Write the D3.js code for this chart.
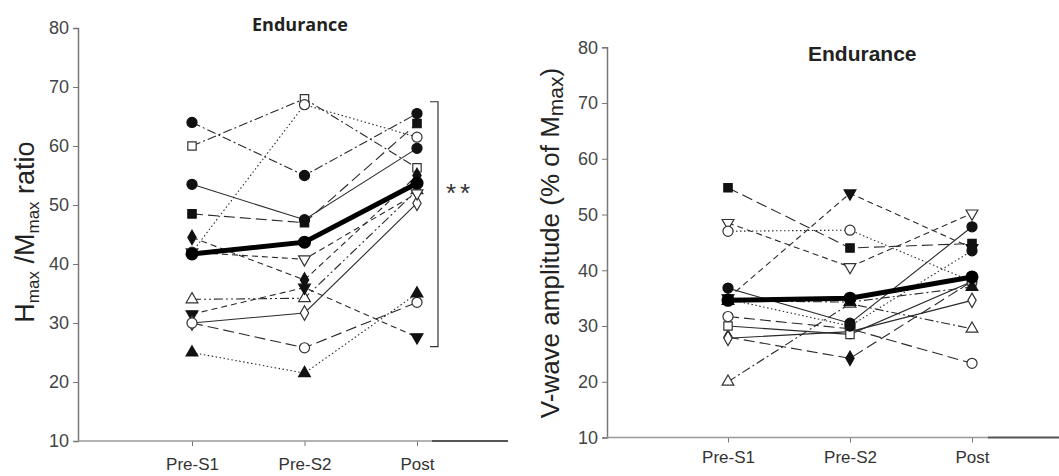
<!DOCTYPE html>
<html>
<head>
<meta charset="utf-8">
<script src="https://cdn.jsdelivr.net/npm/d3@7"></script>
<style>
  body { margin: 0; background: #fff; }
  text { font-family: "Liberation Sans", Arial, sans-serif; }
</style>
</head>
<body>
<div id="chart"></div>
<script>
// categories and tick values
var cats = ["Pre-S1", "Pre-S2", "Post"];
var yTicks = [10, 20, 30, 40, 50, 60, 70, 80];

// left panel: Hmax/Mmax ratio, one row per subject
var leftValues = [
  [64, 55, 65.5], [60, 68, 56.3], [42, 67, 61.5], [53.5, 47.5, 59.6],
  [48.5, 47, 63.8], [44.5, 37.3, 55], [34, 34.2, 52.5], [31.5, 36, 27.6],
  [30, 31.7, 50.3], [30, 25.8, 33.5], [25, 21.5, 35], [42, 40.8, 52]
];
var leftMarkers = ["circle-f", "square-o", "circle-o", "circle-f", "square-f", "diamond-f",
  "triangle-o", "invtri-f", "diamond-o", "circle-o", "triangle-f", "invtri-o"];
var leftDash = ["dashdot", "dashdot", "dot", "solid", "longdash", "dash",
  "dashdotdot", "dash", "solid", "longdash", "dot", "dash"];
var leftMean = [41.7, 43.7, 53.7];
var leftBracket = [26, 67.5];

// right panel: V-wave amplitude
var rightValues = [
  [54.8, 44, 44.8], [48.5, 40.6, 50.2], [47, 47.2, 38], [36.8, 30.5, 47.8],
  [35, 53.8, 44], [20, 34, 29.5], [28, 24.2, 38], [31.7, 29.5, 23.3],
  [27.8, 29, 34.6], [30, 28.5, 38], [34.8, 30, 43.5], [34.5, 34.3, 37]
];
var rightMarkers = ["square-f", "invtri-o", "circle-o", "circle-f", "invtri-f", "triangle-o",
  "diamond-f", "circle-o", "diamond-o", "square-o", "circle-f", "triangle-f"];
var rightDash = ["longdash", "dash", "dot", "solid", "dash", "dashdot",
  "longdash", "longdash", "solid", "solid", "dot", "dashdot"];
var rightMean = [34.6, 35, 38.8];

var dashes = {
  solid: null,
  dot: "1.5,2.5",
  dash: "6,4",
  longdash: "11,5",
  dashdot: "9,3,2,3",
  dashdotdot: "9,3,2,3,2,3"
};

var svg = d3.select("#chart").append("svg")
  .attr("width", 1059)
  .attr("height", 476);

function markerPath(kind) {
  var shape = kind.split("-")[0];
  var type = {circle: d3.symbolCircle, square: d3.symbolSquare, diamond: d3.symbolDiamond,
    triangle: d3.symbolTriangle, invtri: d3.symbolTriangle}[shape];
  var size = {circle: 80, square: 70, diamond: 60, triangle: 60, invtri: 60}[shape];
  return d3.symbol().type(type).size(size)();
}

function drawPanel(p) {
  var g = svg.append("g");

  var x = d3.scalePoint().domain(cats).range(p.xRange);
  var y = d3.scaleLinear().domain([10, 80]).range(p.yRange);

  // y axis
  var yAxis = g.append("g")
    .attr("transform", "translate(" + p.axisX + ",0)")
    .call(d3.axisLeft(y).tickValues(yTicks).tickSize(5).tickPadding(4));
  yAxis.select(".domain").attr("stroke", "#777").attr("stroke-width", 1.5);
  yAxis.selectAll(".tick line").attr("stroke", "#777");
  yAxis.selectAll(".tick text")
    .attr("fill", "#444")
    .style("font-size", "18px")
    .style("font-family", "Liberation Sans, Arial, sans-serif");

  // x axis
  var xAxis = g.append("g")
    .attr("transform", "translate(0," + p.yRange[0] + ")")
    .call(d3.axisBottom(x).tickSize(5).tickPadding(4));
  xAxis.select(".domain").remove();
  xAxis.selectAll(".tick line").attr("stroke", "#777").attr("y1", 0).attr("y2", 5);
  xAxis.selectAll(".tick text")
    .attr("fill", "#333")
    .attr("y", p.catDy)
    .style("font-size", "17px")
    .style("font-family", "Liberation Sans, Arial, sans-serif");
  g.append("line")
    .attr("x1", p.axisX).attr("x2", p.darkFrom)
    .attr("y1", p.yRange[0]).attr("y2", p.yRange[0])
    .attr("stroke", "#999").attr("stroke-width", 1.5);
  g.append("line")
    .attr("x1", p.darkFrom).attr("x2", p.axisEnd)
    .attr("y1", p.yRange[0]).attr("y2", p.yRange[0])
    .attr("stroke", "#555").attr("stroke-width", 2);

  var line = d3.line()
    .x(function(d, i) { return x(cats[i]); })
    .y(function(d) { return y(d); });

  // subject lines
  g.selectAll(".subj")
    .data(p.values)
    .enter().append("path")
    .attr("d", line)
    .attr("fill", "none")
    .attr("stroke", "#2a2a2a")
    .attr("stroke-width", 1.1)
    .attr("stroke-dasharray", function(d, i) { return dashes[p.dash[i]]; });

  // mean line
  g.append("path")
    .datum(p.mean)
    .attr("d", line)
    .attr("fill", "none")
    .attr("stroke", "#000")
    .attr("stroke-width", 5);

  // subject markers
  p.values.forEach(function(vals, i) {
    var kind = p.markers[i];
    var filled = kind.split("-")[1] === "f";
    g.selectAll(null)
      .data(vals)
      .enter().append("path")
      .attr("d", markerPath(kind))
      .attr("transform", function(d, j) {
        return "translate(" + x(cats[j]) + "," + y(d) + ")" +
          (kind.indexOf("invtri") === 0 ? " rotate(180)" : "");
      })
      .attr("fill", filled ? "#111" : "#fff")
      .attr("stroke", filled ? "#111" : "#333")
      .attr("stroke-width", 1.2);
  });

  // mean markers
  g.selectAll(null)
    .data(p.mean)
    .enter().append("circle")
    .attr("cx", function(d, j) { return x(cats[j]); })
    .attr("cy", function(d) { return y(d); })
    .attr("r", 6.5)
    .attr("fill", "#000");

  // title
  g.append("text")
    .attr("x", p.titleX).attr("y", p.titleY)
    .attr("font-weight", "bold")
    .attr("fill", "#222")
    .style("font-family", p.titleFont)
    .style("font-size", p.titleSize + "px")
    .text("Endurance");

  return {g: g, x: x, y: y};
}

var left = drawPanel({
  values: leftValues, markers: leftMarkers, dash: leftDash, mean: leftMean,
  xRange: [192, 417], yRange: [441, 28], axisX: 78, darkFrom: 432, axisEnd: 508,
  catDy: 17, titleX: 252, titleY: 31, titleFont: "Open Sans, sans-serif", titleSize: 18
});

var right = drawPanel({
  values: rightValues, markers: rightMarkers, dash: rightDash, mean: rightMean,
  xRange: [728, 972], yRange: [437.5, 47.3], axisX: 607, darkFrom: 988, axisEnd: 1059,
  catDy: 13, titleX: 808, titleY: 61, titleFont: "Liberation Sans, Arial, sans-serif", titleSize: 21
});

// significance bracket on the left panel
var bx = 438;
left.g.append("path")
  .attr("d", "M" + (bx - 8) + "," + left.y(leftBracket[1]) + "H" + bx +
    "V" + left.y(leftBracket[0]) + "H" + (bx - 8))
  .attr("fill", "none")
  .attr("stroke", "#333")
  .attr("stroke-width", 1.2);
left.g.append("text")
  .attr("x", 446).attr("y", 202)
  .attr("fill", "#333")
  .style("font-size", "26px")
  .style("letter-spacing", "4px")
  .text("**");

// y axis labels
var yl = svg.append("text")
  .attr("transform", "translate(34,232) rotate(-90)")
  .attr("text-anchor", "middle")
  .attr("fill", "#222")
  .style("font-size", "27px");
yl.append("tspan").text("H");
yl.append("tspan").attr("dy", 5).style("font-size", "17px").text("max");
yl.append("tspan").attr("dy", -5).text(" /M");
yl.append("tspan").attr("dy", 5).style("font-size", "17px").text("max");
yl.append("tspan").attr("dy", -5).text(" ratio");

var yr = svg.append("text")
  .attr("transform", "translate(559,243) rotate(-90)")
  .attr("text-anchor", "middle")
  .attr("fill", "#222")
  .style("font-size", "26px");
yr.append("tspan").text("V-wave amplitude (% of M");
yr.append("tspan").attr("dy", 4).style("font-size", "21px").text("max");
yr.append("tspan").attr("dy", -4).text(")");
</script>
</body>
</html>
